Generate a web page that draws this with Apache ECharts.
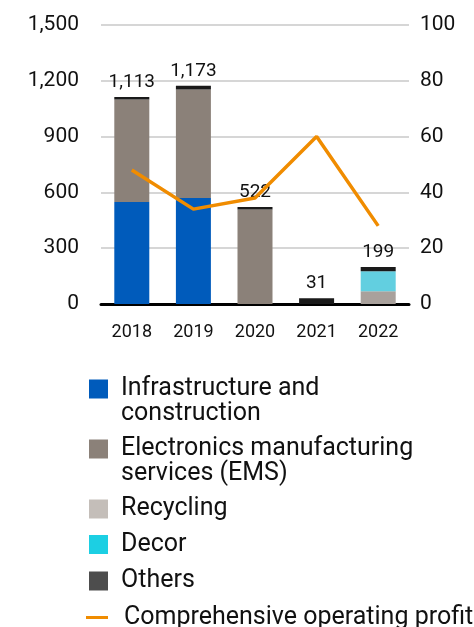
<!DOCTYPE html>
<html><head><meta charset="utf-8">
<script src="https://cdn.jsdelivr.net/npm/echarts@6/dist/echarts.min.js"></script>
<style>html,body{margin:0;padding:0;background:#fff}#c{width:474px;height:627px}</style>
</head><body><div id="c"></div>
<script>
var years = ['2018','2019','2020','2021','2022'];
var infra = [548, 570, 0, 0, 0];
var ems = [552, 583, 508, 0, 0];
var recycling = [0, 0, 0, 0, 69];
var decor = [0, 0, 0, 0, 107];
var others = [13, 20, 14, 31, 23];
var totals = [1113, 1173, 522, 31, 199];
var profit = [48, 34, 38, 60, 28];
var leftTicks = [0, 300, 600, 900, 1200, 1500];
var rightTicks = [0, 20, 40, 60, 80, 100];

var FONT = 'Roboto';
var chart = echarts.init(document.getElementById('c'), null, {renderer: 'canvas'});
function bar(name, data, color, extra) {
  var s = {name: name, type: 'bar', stack: 'a', data: data, barWidth: 35,
    itemStyle: {color: color}, emphasis: {disabled: true}};
  if (extra) for (var k in extra) s[k] = extra[k];
  return s;
}
function legendItem(name, top, color, icon, w, h, left, pad) {
  return {show: true, orient: 'vertical', left: left, top: top, padding: 0,
    itemWidth: w, itemHeight: h, icon: icon, selectedMode: false,
    data: [{name: name, itemStyle: {color: color, borderWidth: 0}, lineStyle: {width: 0}}],
    textStyle: {fontFamily: FONT, fontSize: 25, lineHeight: 25, color: '#111', padding: [0, 0, 0, pad]}};
}
chart.setOption({
  animation: false,
  grid: {left: 101, right: 65, top: 25, height: 279},
  xAxis: {type: 'category', data: years,
    axisLine: {lineStyle: {color: '#000', width: 3}}, axisTick: {show: false},
    axisLabel: {fontFamily: FONT, fontSize: 18, color: '#111', margin: 19}},
  yAxis: [
    {type: 'value', min: 0, max: 1500, interval: 300,
      axisLabel: {fontFamily: FONT, fontSize: 21, color: '#111', margin: 22,
        formatter: function (v) { return v.toLocaleString('en-US'); }},
      splitLine: {lineStyle: {color: '#c8c8c8', width: 1.5}}, axisLine: {show: false}},
    {type: 'value', min: 0, max: 100, interval: 20,
      axisLabel: {fontFamily: FONT, fontSize: 21, color: '#111', margin: 11},
      splitLine: {show: false}, axisLine: {show: false}}
  ],
  legend: [
    legendItem('Infrastructure and', 376.5, '#005bbb', 'rect', 19, 19, 89, 8),
    legendItem('Electronics manufacturing', 436.5, '#8b8179', 'rect', 19, 19, 89, 8),
    legendItem('Recycling', 496.5, '#c4beb9', 'rect', 19, 19, 89, 8),
    legendItem('Decor', 532, '#1ccfe3', 'rect', 19, 19, 89, 8),
    legendItem('Others', 568.5, '#4d4d4d', 'rect', 19, 19, 89, 8),
    legendItem('Comprehensive operating profit', 605, '#f08c00', 'rect', 22, 3, 86, 11)
  ],
  graphic: [
    {type: 'text', left: 121, top: 401, style: {text: 'construction', font: '25px ' + FONT, fill: '#111'}},
    {type: 'text', left: 121, top: 461, style: {text: 'services (EMS)', font: '25px ' + FONT, fill: '#111'}}
  ],
  series: [
    bar('Infrastructure and', infra, '#005bbb'),
    bar('Electronics manufacturing', ems, '#8b8179'),
    bar('Recycling', recycling, '#a9a19c'),
    bar('Decor', decor, '#62cfe0'),
    bar('Others', others, '#1a1a1a', {label: {show: true, position: 'top', distance: 5,
      fontFamily: FONT, fontSize: 19, color: '#111',
      formatter: function (p) { return totals[p.dataIndex].toLocaleString('en-US'); }}}),
    {name: 'Comprehensive operating profit', type: 'line', yAxisIndex: 1, data: profit,
      symbol: 'none', lineStyle: {color: '#f08c00', width: 3.5}, itemStyle: {color: '#f08c00'},
      emphasis: {disabled: true}, z: 5}
  ]
});
</script></body></html>
